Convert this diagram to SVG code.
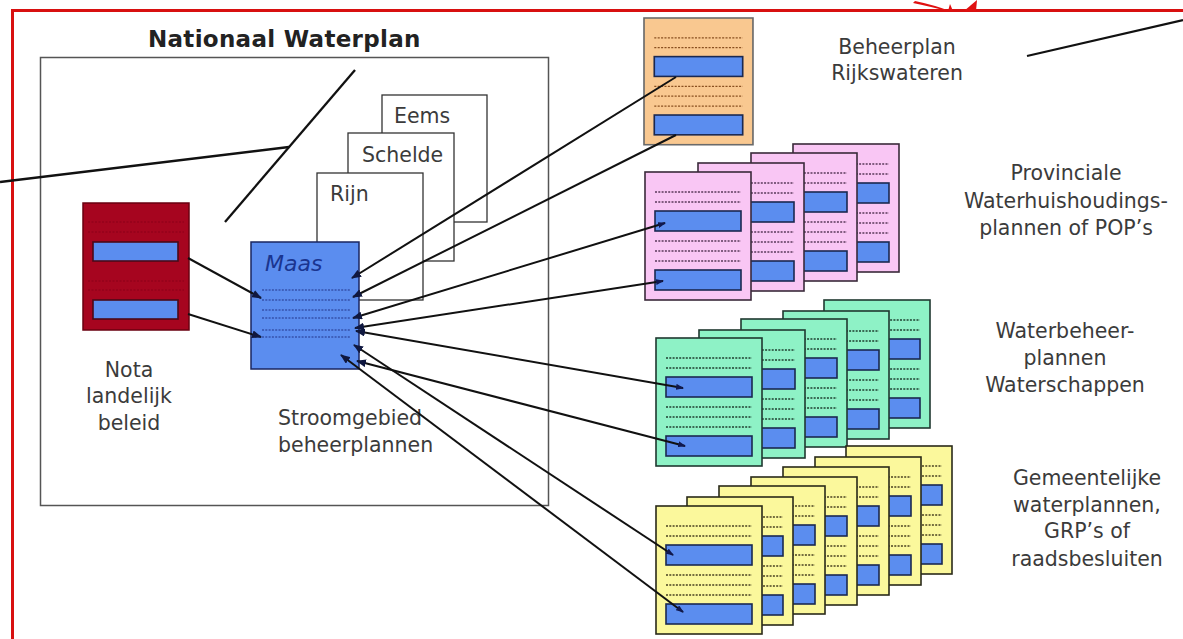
<svg xmlns="http://www.w3.org/2000/svg" xmlns:xlink="http://www.w3.org/1999/xlink" width="1183" height="639" viewBox="0 0 1183 639">
<style>
.lbl{font-family:"DejaVu Sans","Liberation Sans",sans-serif;font-size:20.5px;fill:#3b3b3b}
.mid{text-anchor:middle}
.title{font-family:"DejaVu Sans","Liberation Sans",sans-serif;font-size:23px;font-weight:700;fill:#222;letter-spacing:0.3px}
.dots{fill:none;stroke:currentColor;stroke-width:1.3;stroke-dasharray:2 1.3}
.bar{fill:#5b8def;stroke:#1b2850;stroke-width:1.6}
.conn{fill:none;stroke:#111;stroke-width:2}
.lead{fill:none;stroke:#111;stroke-width:2.3}
.sheet{fill:#fff;stroke:#333;stroke-width:1.3}
.pink{fill:#f9c6f4;stroke:#3a2a3a;stroke-width:1.6;color:#5a3a5a}
.green{fill:#8ef2c6;stroke:#203830;stroke-width:1.6;color:#1f3f30}
.yellow{fill:#fbf89c;stroke:#2a2a1a;stroke-width:1.6;color:#4a4020}
.orange{fill:#f9c890;stroke:#6a6a6a;stroke-width:1.6;color:#8a5020}
</style>
<defs>
<g id="page">
<rect x="0" y="0" width="106" height="128"/>
<path class="dots" d="M10,20H96M10,30H96M10,69H96M10,79H96M10,89H96"/>
<rect class="bar" x="10" y="39" width="86" height="20"/>
<rect class="bar" x="10" y="98" width="86" height="20"/>
</g>
<marker id="ah" viewBox="0 0 10 8" refX="9" refY="4" markerWidth="10" markerHeight="8" markerUnits="userSpaceOnUse" orient="auto">
<path d="M0,0L10,4L0,8z" fill="#101840"/>
</marker>
<marker id="tip" viewBox="0 0 8 6" refX="7" refY="3" markerWidth="8" markerHeight="6" markerUnits="userSpaceOnUse" orient="auto-start-reverse">
<path d="M0,0L8,3L0,6z" fill="#101850"/>
</marker>
</defs>
<rect x="0" y="0" width="1183" height="639" fill="#fff"/>
<g id="frame">
<rect x="12.5" y="10.5" width="1190" height="650" fill="none" stroke="#d81010" stroke-width="3"/>
<path d="M913,3 Q932,7 947,11 L950,11 Q934,5 915,1z" fill="#e01010"/>
<path d="M948,11 L950,4 L953,11z" fill="#e01010"/>
<path d="M964,11 L977,0 L976,11z" fill="#e01010"/>
</g>
<g id="nationaal-waterplan">
<rect x="40.5" y="57.5" width="508" height="448" fill="none" stroke="#555" stroke-width="1.5"/>
<text class="title" x="148" y="47">Nationaal Waterplan</text>
</g>
<g id="nota">
<rect x="83" y="203" width="106" height="127" fill="#a6051f" stroke="#6a0010" stroke-width="1.5"/>
<path d="M88,222H184M88,232H184M88,281H184M88,290H184" stroke="#8a0018" stroke-width="1" stroke-dasharray="2 1.5" fill="none"/>
<rect x="93" y="242" width="85" height="19" fill="#5b8def" stroke="#4a0a1a" stroke-width="1.6"/>
<rect x="93" y="300" width="85" height="19" fill="#5b8def" stroke="#4a0a1a" stroke-width="1.6"/>
<text class="lbl mid" x="129" y="377">Nota</text>
<text class="lbl mid" x="129" y="403">landelijk</text>
<text class="lbl mid" x="129" y="430">beleid</text>
</g>
<g id="eems">
<rect class="sheet" x="382" y="95" width="105" height="127"/>
<text class="lbl" x="394" y="123">Eems</text>
</g>
<g id="schelde">
<rect class="sheet" x="348" y="133" width="106" height="128"/>
<text class="lbl" x="362" y="162">Schelde</text>
</g>
<g id="rijn">
<rect class="sheet" x="317" y="173" width="106" height="127"/>
<text class="lbl" x="330" y="201">Rijn</text>
</g>
<g id="maas">
<rect x="251" y="242" width="108" height="127" fill="#5b8def" stroke="#1a2660" stroke-width="1.5"/>
<path d="M262,290H350M262,300H350M262,310H350M262,318H350M262,330H350M262,337H350" fill="none" stroke="#23358a" stroke-width="1.1" stroke-dasharray="2 1.3"/>
<text x="265" y="271" font-family="'DejaVu Sans','Liberation Sans',sans-serif" font-size="22" font-style="italic" fill="#1a3590">Maas</text>
<text class="lbl" x="278" y="425">Stroomgebied</text>
<text class="lbl" x="278" y="452">beheerplannen</text>
</g>
<g id="beheerplan-rijkswateren">
<use xlink:href="#page" class="orange" transform="translate(644,18) scale(1.028,0.99)"/>
<text class="lbl mid" x="897" y="54">Beheerplan</text>
<text class="lbl mid" x="897" y="80">Rijkswateren</text>
</g>
<g id="provinciale-plannen">
<use xlink:href="#page" class="pink" x="793" y="144"/>
<use xlink:href="#page" class="pink" x="751" y="153"/>
<use xlink:href="#page" class="pink" x="698" y="163"/>
<use xlink:href="#page" class="pink" x="645" y="172"/>
<text class="lbl mid" x="1066" y="180">Provinciale</text>
<text class="lbl mid" x="1066" y="208">Waterhuishoudings-</text>
<text class="lbl mid" x="1066" y="235">plannen of POP’s</text>
</g>
<g id="waterbeheerplannen">
<use xlink:href="#page" class="green" x="824" y="300"/>
<use xlink:href="#page" class="green" x="783" y="311"/>
<use xlink:href="#page" class="green" x="741" y="319"/>
<use xlink:href="#page" class="green" x="699" y="330"/>
<use xlink:href="#page" class="green" x="656" y="338"/>
<text class="lbl mid" x="1065" y="338">Waterbeheer-</text>
<text class="lbl mid" x="1065" y="365">plannen</text>
<text class="lbl mid" x="1065" y="392">Waterschappen</text>
</g>
<g id="gemeentelijke-waterplannen">
<use xlink:href="#page" class="yellow" x="846" y="446"/>
<use xlink:href="#page" class="yellow" x="815" y="457"/>
<use xlink:href="#page" class="yellow" x="783" y="467"/>
<use xlink:href="#page" class="yellow" x="751" y="477"/>
<use xlink:href="#page" class="yellow" x="719" y="486"/>
<use xlink:href="#page" class="yellow" x="687" y="497"/>
<use xlink:href="#page" class="yellow" x="656" y="506"/>
<text class="lbl mid" x="1087" y="485">Gemeentelijke</text>
<text class="lbl mid" x="1087" y="512">waterplannen,</text>
<text class="lbl mid" x="1087" y="538">GRP’s of</text>
<text class="lbl mid" x="1087" y="566">raadsbesluiten</text>
</g>
<g id="leader-lines">
<path class="lead" d="M0,182L289,147"/>
<path class="lead" d="M355,70L225,222"/>
<path class="lead" d="M1027,56L1183,20"/>
</g>
<g id="connectors">
<path class="conn" d="M188,258L261,298" marker-end="url(#ah)"/>
<path class="conn" d="M188,314L261,337" marker-end="url(#ah)"/>
<path class="conn" d="M676,77L352,278" marker-end="url(#ah)"/>
<path class="conn" d="M676,135L353,297" marker-end="url(#ah)"/>
<path class="conn" d="M665,223L353,318" marker-start="url(#tip)" marker-end="url(#ah)"/>
<path class="conn" d="M663,281L355,328" marker-start="url(#tip)" marker-end="url(#ah)"/>
<path class="conn" d="M683,388L356,331" marker-start="url(#tip)" marker-end="url(#ah)"/>
<path class="conn" d="M685,446L357,361" marker-start="url(#tip)" marker-end="url(#ah)"/>
<path class="conn" d="M673,555L354,345" marker-start="url(#tip)" marker-end="url(#ah)"/>
<path class="conn" d="M683,612L341,355" marker-start="url(#tip)" marker-end="url(#ah)"/>
</g>
</svg>
